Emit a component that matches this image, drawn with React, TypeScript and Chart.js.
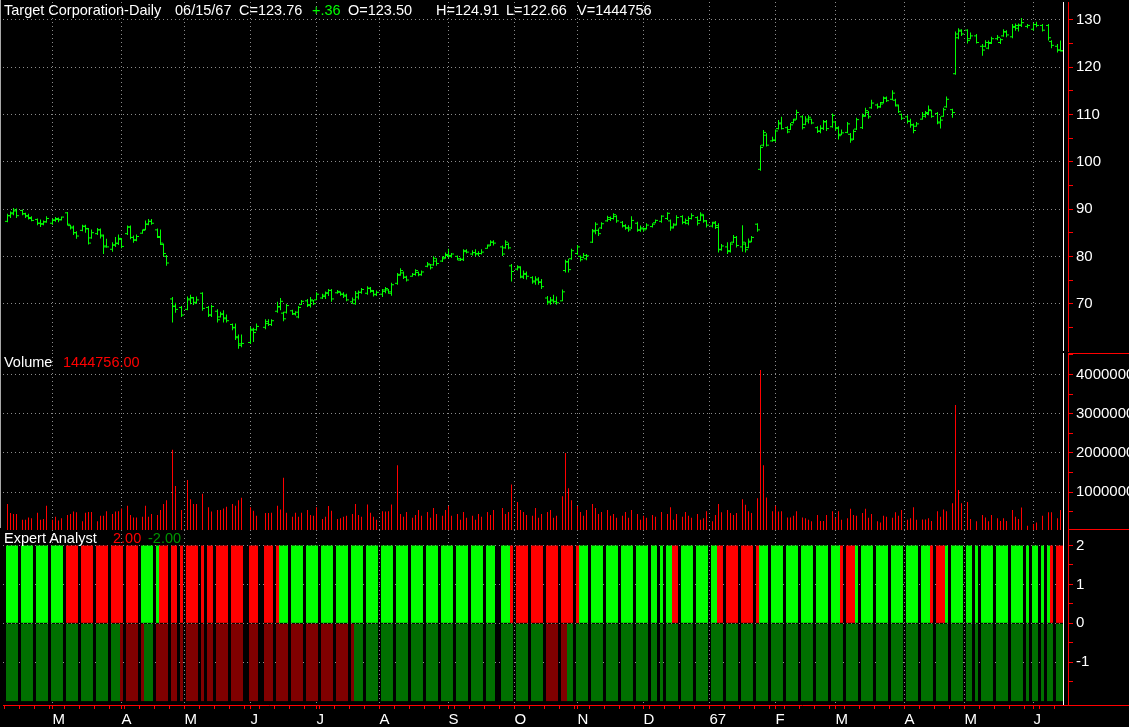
import React, { useEffect, useRef } from 'react';
import { Chart, registerables } from 'chart.js';

Chart.register(...registerables);

// ---------- DATA (one slot per weekday; null = no bar drawn) ----------
const monthTickSlots = [15, 38, 59, 81, 103, 124, 147, 169, 190, 212, 234, 256, 276, 299, 319, 342];
const monthTickLabels = ['M', 'A', 'M', 'J', 'J', 'A', 'S', 'O', 'N', 'D', '67', 'F', 'M', 'A', 'M', 'J'];

const priceTickValues = [65, 70, 75, 80, 85, 90, 95, 100, 105, 110, 115, 120, 125, 130];
const priceLabelValues = [70, 80, 90, 100, 110, 120, 130];
const volumeTickValues = [500000, 1000000, 1500000, 2000000, 2500000, 3000000, 3500000, 4000000, 4500000];
const volumeLabelValues = [1000000, 2000000, 3000000, 4000000];
const expertTickValues = [-1.5, -1, -0.5, 0, 0.5, 1, 1.5, 2];
const expertLabelValues = [-1, 0, 1, 2];
const expertHigh = 2;
const expertLow = -2;

const highs = [
  89.0, 89.5, 90.2, 90.1, null,
  89.9, 89.2, 89.0, 88.5, null,
  88.0, 87.8, 87.6, 88.5, null,
  88.0, 88.3, 88.2, 88.4, null,
  89.4, 86.7, 86.5, 85.3, null,
  86.7, 86.7, 86.0, 85.7, null,
  86.0, 85.9, 84.6, 83.7, null,
  83.0, 84.1, 84.6, 83.9, null,
  86.5, 86.5, 84.4, 84.6, null,
  85.7, 87.6, 87.9, 87.9, null,
  85.9, 85.7, 82.7, 80.3, null,
  71.4, 70.2, null, 69.5, null,
  71.5, 71.9, 71.4, 71.5, null,
  72.4, null, 69.5, 69.8, null,
  68.8, 68.3, 68.6, 67.7, null,
  65.8, 65.8, 63.5, 63.5, null,
  null, 65.1, 64.9, 65.8, null,
  null, 66.7, 66.7, 66.7, null,
  70.4, 71.2, 68.3, 70.0, null,
  68.7, 68.4, 69.5, 70.8, null,
  71.0, 71.4, 70.8, 72.4, null,
  72.1, 72.6, 73.1, 73.1, null,
  72.9, 72.6, 72.4, 72.1, null,
  71.3, 72.7, 72.8, 73.3, null,
  73.7, 73.5, 72.9, 72.8, null,
  73.1, 73.5, 73.1, 74.4, null,
  76.5, 77.5, 76.8, 75.9, null,
  76.5, 77.3, 76.8, 77.0, null,
  78.8, 78.4, 80.0, 79.6, null,
  80.0, 80.8, 81.6, 80.7, null,
  80.2, 79.7, 81.5, 81.5, null,
  81.3, 81.5, 81.1, 81.5, null,
  82.5, 83.4, 83.4, null, null,
  82.3, 83.4, 82.9, 78.4, null,
  78.1, 77.9, 77.0, 76.8, null,
  75.8, 75.8, 75.6, 75.2, null,
  71.6, 71.4, 71.9, 71.5, null,
  73.0, 79.3, 79.5, 81.6, null,
  82.4, 80.2, 80.7, 80.5, null,
  85.8, 87.2, 85.9, 87.2, null,
  88.6, 88.4, 89.1, 88.7, null,
  87.5, 86.8, 86.6, 88.5, null,
  87.3, 86.5, 86.1, 87.0, null,
  87.0, 87.8, null, 88.7, null,
  89.3, 87.8, 87.0, 88.7, null,
  88.7, 88.0, 88.5, 89.1, null,
  88.5, 89.3, 88.9, 87.7, null,
  87.3, 87.5, 87.0, 82.6, null,
  83.0, 83.0, 84.5, 84.3, null,
  86.6, 83.0, 83.8, 84.3, null,
  87.0, 103.5, 106.7, 106.0, null,
  105.3, 106.8, 108.8, 109.5, null,
  107.5, 108.2, 109.1, 111.0, null,
  109.8, 109.6, 109.8, 109.1, null,
  107.5, 107.7, 108.8, 108.8, null,
  110.2, 108.6, 107.5, 106.8, null,
  108.4, 106.1, 106.8, 109.3, null,
  110.2, 111.4, 110.7, 113.1, null,
  112.3, 112.6, 113.8, 113.8, null,
  115.1, 113.3, 112.1, 110.2, null,
  109.8, 109.1, 108.1, 108.4, null,
  110.5, 110.7, 111.9, 111.0, null,
  110.5, 109.5, 111.4, 113.8, null,
  111.2, 127.5, 128.2, 128.0, null,
  128.0, 127.3, null, 127.0, null,
  124.9, 125.7, 125.6, 126.4, null,
  126.8, 126.1, 128.0, 127.8, null,
  129.1, 129.2, 129.2, 130.4, null,
  129.1, null, 129.4, 129.6, null,
  129.1, null, 129.1, 125.7, null,
  124.9, 125.6, 124.91,
];

const lows = [
  87.2, 88.1, 88.7, 88.1, null,
  88.7, 88.1, 87.8, 87.4, null,
  86.6, 86.2, 86.6, 87.1, null,
  86.7, 87.3, 87.2, 87.6, null,
  86.5, 85.7, 84.5, 83.7, null,
  85.3, 85.0, 82.5, 83.7, null,
  84.5, 83.8, 80.5, 81.8, null,
  81.0, 82.0, 82.4, 81.7, null,
  84.5, 83.6, 82.9, 83.2, null,
  84.8, 85.5, 86.6, 86.7, null,
  83.9, 82.4, 80.1, 78.0, null,
  66.0, 68.1, null, 67.2, null,
  68.6, 69.9, 69.7, 70.0, null,
  68.5, null, 67.2, 67.2, null,
  66.0, 67.1, 66.0, 66.0, null,
  64.4, 62.3, 60.5, 60.8, null,
  null, 61.5, 61.9, 64.3, null,
  null, 64.6, 65.3, 65.3, null,
  68.1, 68.6, 66.3, 67.9, null,
  67.6, 67.5, 66.9, 69.7, null,
  69.3, 69.2, 69.7, 70.7, null,
  71.0, 71.0, 71.6, 70.4, null,
  72.1, 71.7, 71.2, 70.5, null,
  70.0, 69.8, 70.9, 72.1, null,
  71.9, 72.3, 71.5, 71.6, null,
  71.4, 72.2, 72.1, 71.7, null,
  74.0, 75.9, 75.2, 74.7, null,
  75.7, 75.9, 75.8, 75.9, null,
  77.7, 77.2, 78.0, 78.0, null,
  78.8, 79.5, 79.6, 79.7, null,
  79.2, 79.0, 79.0, 80.6, null,
  80.2, 80.0, 80.0, 80.4, null,
  81.6, 82.2, 82.3, null, null,
  80.1, 81.6, 81.5, 74.7, null,
  77.0, 75.4, 75.2, 75.1, null,
  74.2, 74.0, 74.0, 73.1, null,
  69.8, 69.8, 70.0, 69.8, null,
  70.5, 76.6, 76.6, 79.3, null,
  80.3, 78.9, 79.6, 79.2, null,
  82.8, 84.7, 84.3, 85.8, null,
  87.3, 87.5, 87.8, 87.1, null,
  86.1, 85.6, 85.2, 85.8, null,
  85.2, 85.2, 85.2, 85.7, null,
  86.1, 87.0, null, 87.1, null,
  87.7, 85.4, 85.9, 86.5, null,
  86.8, 86.8, 86.6, 87.8, null,
  86.5, 87.5, 87.1, 86.1, null,
  86.1, 85.8, 80.8, 81.2, null,
  80.5, 80.8, 82.8, 81.9, null,
  81.0, 80.8, 81.7, 83.0, null,
  85.2, 98.1, 103.2, 103.2, null,
  104.2, 104.2, 106.8, 106.8, null,
  106.0, 106.7, 108.1, 108.9, null,
  106.8, 107.7, 108.1, 107.9, null,
  106.1, 106.0, 106.7, 106.5, null,
  107.2, 106.5, 104.7, 105.6, null,
  106.0, 104.0, 104.6, 106.7, null,
  106.9, 109.5, 109.1, 111.2, null,
  111.2, 111.4, 112.3, 112.6, null,
  113.0, 111.7, 110.3, 108.8, null,
  108.1, 107.2, 106.0, 107.4, null,
  108.9, 109.3, 109.8, 109.3, null,
  107.9, 107.0, 109.5, 111.4, null,
  109.3, 118.4, 125.9, 126.6, null,
  125.0, 125.9, null, 125.0, null,
  122.4, 124.2, 123.8, 124.9, null,
  125.7, 124.9, 126.4, 126.3, null,
  126.1, 127.7, 127.5, 128.5, null,
  128.2, null, 127.7, 128.4, null,
  127.5, null, 125.6, 124.0, null,
  123.1, 123.3, 122.66,
];

const opens = [
  87.4, 88.6, 89.0, 89.8, null,
  89.7, 89.0, 88.6, 88.0, null,
  87.8, 87.0, 86.8, 87.3, null,
  87.0, 87.6, 87.8, 87.8, null,
  89.2, 86.5, 86.2, 85.0, null,
  85.5, 86.4, 85.8, 83.9, null,
  84.8, 85.6, 84.3, 82.2, null,
  81.5, 82.4, 82.8, 83.6, null,
  84.8, 86.2, 84.0, 83.5, null,
  84.9, 85.7, 86.8, 87.4, null,
  85.6, 84.0, 82.5, 80.0, null,
  71.0, 69.4, null, 69.2, null,
  68.8, 70.8, 71.2, 70.3, null,
  72.2, null, 69.2, 67.6, null,
  68.4, 67.2, 67.8, 67.0, null,
  65.6, 65.0, 63.0, 61.5, null,
  null, 61.8, 64.4, 64.5, null,
  null, 65.0, 65.8, 65.6, null,
  68.4, 69.4, 68.0, 68.2, null,
  68.5, 67.8, 67.2, 69.8, null,
  70.6, 69.6, 70.6, 70.8, null,
  71.2, 71.5, 72.2, 72.8, null,
  72.3, 72.4, 72.0, 71.8, null,
  70.4, 70.0, 71.4, 72.4, null,
  72.2, 73.2, 72.6, 72.0, null,
  72.0, 72.6, 72.9, 72.2, null,
  74.3, 76.2, 76.5, 75.6, null,
  75.8, 76.2, 76.6, 76.1, null,
  77.9, 78.2, 78.2, 79.0, null,
  79.0, 79.8, 80.2, 80.0, null,
  80.0, 79.2, 79.3, 81.0, null,
  80.5, 80.8, 80.5, 80.6, null,
  81.7, 82.4, 83.0, null, null,
  82.0, 81.8, 82.5, 78.0, null,
  77.3, 77.6, 75.6, 76.4, null,
  75.5, 74.6, 75.0, 74.6, null,
  71.2, 70.2, 70.6, 70.5, null,
  70.6, 77.0, 78.8, 79.5, null,
  80.6, 80.0, 79.8, 79.5, null,
  83.0, 85.2, 85.5, 86.0, null,
  87.5, 87.8, 88.0, 88.4, null,
  87.2, 86.4, 86.0, 86.0, null,
  87.0, 85.5, 85.8, 85.9, null,
  86.3, 87.1, null, 87.4, null,
  88.0, 87.5, 86.2, 86.8, null,
  88.4, 87.2, 87.0, 88.0, null,
  88.2, 87.6, 88.6, 87.5, null,
  86.4, 87.2, 86.5, 81.4, null,
  82.0, 81.2, 83.0, 84.0, null,
  82.0, 82.6, 81.9, 83.2, null,
  86.8, 98.4, 103.5, 105.6, null,
  104.4, 104.5, 107.0, 108.2, null,
  107.2, 106.8, 108.3, 109.0, null,
  109.5, 107.9, 108.6, 109.0, null,
  107.2, 106.4, 107.0, 108.5, null,
  107.4, 108.4, 107.2, 105.8, null,
  106.2, 105.8, 104.8, 106.9, null,
  107.2, 109.8, 110.4, 111.4, null,
  112.0, 111.6, 112.5, 113.5, null,
  113.2, 113.0, 111.8, 110.0, null,
  109.5, 108.6, 107.8, 107.5, null,
  109.0, 109.6, 110.2, 110.8, null,
  110.2, 108.2, 109.6, 111.6, null,
  111.0, 118.6, 126.2, 127.6, null,
  127.8, 126.0, null, 126.6, null,
  124.4, 124.4, 124.0, 125.2, null,
  126.0, 125.2, 126.6, 127.4, null,
  126.4, 128.4, 128.2, 128.8, null,
  128.6, null, 128.0, 129.0, null,
  128.8, null, 128.8, 125.4, null,
  124.4, 123.6, 123.50,
];

const closes = [
  88.6, 89.2, 89.6, 88.6, null,
  89.0, 88.5, 88.2, 87.6, null,
  87.0, 86.9, 87.3, 88.0, null,
  87.7, 88.0, 87.7, 88.3, null,
  86.8, 86.0, 85.0, 84.3, null,
  86.3, 85.9, 82.8, 85.0, null,
  85.6, 84.5, 82.0, 82.0, null,
  82.4, 82.7, 83.8, 82.1, null,
  86.2, 84.0, 83.4, 84.2, null,
  85.5, 86.8, 87.4, 87.0, null,
  84.2, 82.8, 80.6, 78.6, null,
  69.5, 68.8, null, 67.6, null,
  71.0, 71.3, 70.2, 70.8, null,
  69.0, null, 67.6, 69.4, null,
  66.6, 67.8, 66.8, 66.4, null,
  64.9, 62.8, 61.2, 61.6, null,
  null, 64.6, 63.9, 65.2, null,
  null, 66.2, 65.6, 66.4, null,
  69.3, 70.5, 66.8, 69.6, null,
  67.9, 68.2, 69.2, 70.5, null,
  69.8, 70.8, 70.0, 72.0, null,
  71.8, 72.3, 72.8, 71.0, null,
  72.6, 72.0, 71.6, 70.8, null,
  70.8, 72.2, 72.4, 73.0, null,
  73.3, 72.8, 71.9, 72.4, null,
  72.9, 73.2, 72.5, 74.0, null,
  76.0, 77.0, 75.6, 75.0, null,
  76.2, 77.0, 76.2, 76.7, null,
  78.4, 77.6, 79.6, 78.5, null,
  79.5, 80.4, 80.2, 80.5, null,
  79.5, 79.4, 81.2, 80.9, null,
  80.8, 80.6, 80.6, 80.9, null,
  82.2, 83.0, 82.8, null, null,
  80.5, 83.0, 81.8, 76.8, null,
  77.8, 75.8, 76.2, 75.8, null,
  74.8, 75.2, 74.5, 73.6, null,
  70.5, 70.8, 70.4, 70.2, null,
  72.5, 78.9, 77.2, 81.2, null,
  82.0, 79.3, 80.2, 80.1, null,
  85.5, 86.8, 84.8, 86.9, null,
  88.2, 88.0, 88.8, 87.5, null,
  86.5, 86.0, 85.6, 87.6, null,
  85.6, 86.0, 85.6, 86.6, null,
  86.8, 87.6, null, 88.5, null,
  89.1, 86.0, 86.6, 88.2, null,
  87.2, 87.6, 88.0, 88.6, null,
  87.0, 88.9, 87.5, 86.6, null,
  87.0, 86.1, 81.5, 82.2, null,
  81.0, 82.6, 84.0, 82.3, null,
  83.0, 81.4, 83.0, 84.0, null,
  85.6, 103.0, 106.2, 103.5, null,
  104.6, 106.5, 108.0, 107.0, null,
  106.3, 107.8, 108.8, 110.4, null,
  107.2, 109.0, 109.4, 108.2, null,
  106.5, 107.1, 108.4, 107.0, null,
  109.8, 107.0, 105.5, 106.1, null,
  108.0, 104.6, 106.4, 108.9, null,
  109.6, 110.8, 109.5, 112.4, null,
  111.6, 112.2, 113.4, 112.9, null,
  114.5, 112.0, 110.6, 109.2, null,
  108.5, 107.8, 106.6, 108.0, null,
  110.0, 110.4, 111.0, 109.6, null,
  108.4, 108.8, 111.0, 113.2, null,
  110.4, 127.0, 127.8, 127.0, null,
  125.6, 126.6, null, 125.2, null,
  123.6, 125.2, 125.0, 126.0, null,
  126.3, 125.8, 127.5, 126.8, null,
  128.6, 128.8, 128.9, 129.4, null,
  128.8, null, 129.0, 128.8, null,
  127.8, null, 126.2, 124.6, null,
  123.6, 123.4, 123.76,
];

// volume in millions of shares
const volumesM = [
  0.70, 0.47, 0.45, 0.45, null,
  0.30, 0.30, 0.36, 0.34, null,
  0.48, 0.30, 0.32, 0.66, null,
  0.30, 0.38, 0.28, 0.34, null,
  0.42, 0.45, 0.51, 0.49, null,
  0.26, 0.48, 0.50, 0.50, null,
  0.26, 0.40, 0.40, 0.52, null,
  0.45, 0.51, 0.52, 0.59, null,
  0.66, 0.42, 0.36, 0.36, null,
  0.38, 0.66, 0.38, 0.45, null,
  0.42, 0.55, 0.70, 0.80, null,
  2.08, 1.16, null, 0.55, null,
  1.31, 0.82, 0.70, 0.70, null,
  0.96, null, 0.62, 0.51, null,
  0.55, 0.55, 0.59, 0.63, null,
  0.70, 0.66, 0.80, 0.86, null,
  null, 0.62, 0.53, 0.40, null,
  null, 0.47, 0.47, 0.48, null,
  0.66, 0.56, 1.37, 0.48, null,
  0.38, 0.48, 0.38, 0.48, null,
  0.55, 0.42, 0.40, 0.62, null,
  0.32, 0.38, 0.65, 0.53, null,
  0.32, 0.34, 0.38, 0.40, null,
  0.45, 0.70, 0.42, 0.38, null,
  0.69, 0.48, 0.38, 0.30, null,
  0.52, 0.51, 0.52, 0.69, null,
  1.69, 0.45, 0.38, 0.50, null,
  0.35, 0.42, 0.55, 0.40, null,
  0.50, 0.35, 0.60, 0.45, null,
  0.40, 0.55, 0.65, 0.40, null,
  0.45, 0.30, 0.50, 0.35, null,
  0.40, 0.30, 0.45, 0.38, null,
  0.50, 0.42, 0.55, null, null,
  0.60, 0.45, 0.50, 1.20, null,
  0.75, 0.55, 0.50, 0.42, null,
  0.40, 0.60, 0.35, 0.45, null,
  0.50, 0.55, 0.35, 0.40, null,
  0.90, 2.00, 1.10, 0.80, null,
  0.65, 0.50, 0.40, 0.55, null,
  0.70, 0.60, 0.45, 0.50, null,
  0.55, 0.40, 0.45, 0.35, null,
  0.40, 0.50, 0.35, 0.55, null,
  0.45, 0.30, 0.40, 0.35, null,
  0.42, 0.38, null, 0.50, null,
  0.45, 0.62, 0.30, 0.45, null,
  0.38, 0.50, 0.40, 0.35, null,
  0.45, 0.30, 0.34, 0.52, null,
  0.26, 0.42, 0.70, 0.49, null,
  0.55, 0.47, 0.42, 0.47, null,
  0.82, 0.68, 0.52, 0.47, null,
  0.85, 4.11, 1.69, 0.87, null,
  0.52, 0.66, 0.51, 0.52, null,
  0.36, 0.36, 0.40, 0.52, null,
  0.36, 0.34, 0.30, 0.26, null,
  0.42, 0.27, 0.27, 0.42, null,
  0.52, 0.36, 0.52, 0.30, null,
  0.34, 0.58, 0.42, 0.40, null,
  0.47, 0.58, 0.35, 0.45, null,
  0.26, 0.23, 0.40, 0.38, null,
  0.35, 0.49, 0.40, 0.55, null,
  0.30, 0.34, 0.62, 0.30, null,
  0.31, 0.31, 0.34, 0.27, null,
  0.52, 0.38, 0.56, 0.52, null,
  0.72, 3.22, 1.06, 0.72, null,
  0.75, 0.32, null, 0.26, null,
  0.42, 0.36, 0.26, 0.42, null,
  0.34, 0.27, 0.34, 0.27, null,
  0.55, 0.38, 0.32, 0.61, null,
  0.15, null, 0.19, 0.23, null,
  0.40, null, 0.49, 0.49, null,
  0.34, 0.55, 1.444756,
];

// Expert Analyst signal per slot: G/R = upper half green/red, g/r = lower half dark green/dark red, '.' = none
const expertUpperWeeks = [
  'GGGG.', 'GGGG.', 'GGGG.', 'GGGG.',
  'RRRR.', 'RRRR.', 'RRRR.', 'RRRR.', 'RRRR.',
  'GGGG.', 'GRRR.', 'RR.R.', 'RRRR.', 'R.RR.', 'RRRR.', 'RRRR.', '.RRR.', '.RRR.',
  'RGGG.',
  'GGGG.', 'GGGG.', 'GGGG.', 'GGGG.', 'GGGG.', 'GGGG.', 'GGGG.', 'GGGG.', 'GGGG.', 'GGGG.', 'GGGG.', 'GGGG.', 'GGGG.',
  'GGG..', 'GGGR.',
  'RRRR.', 'RRRR.', 'RRRR.', 'RRRR.',
  'RGGG.',
  'GGGG.', 'GGGG.', 'GGGG.', 'GGGG.',
  'GG.G.', 'GGRR.', 'GGGG.', 'GGGG.', 'GGRR.',
  'RRRR.', 'RRRR.',
  'RGGG.',
  'GGGG.', 'GGGG.', 'GGGG.', 'GGGG.',
  'GGGR.', 'RRRG.',
  'GGGG.', 'GGGG.', 'GGGG.', 'GGGG.',
  'GGGR.', 'RRRG.',
  'GGGG.', 'GG.G.', 'GGGG.', 'GGGG.', 'GGGG.', 'G.GG.', 'G.GR.',
  'RRR',
];
const expertLowerWeeks = [
  'gggg.', 'gggg.', 'gggg.', 'gggg.', 'gggg.', 'gggg.', 'gggg.',
  'gggr.', 'rrrr.', 'rggg.', 'rrrr.', 'rr.r.', 'rrrr.', 'r.rr.', 'rrrr.', 'rrrr.', '.rrr.', '.rrr.',
  'rrrr.', 'rrrr.', 'rrrr.', 'rrrr.', 'rrrr.',
  'rggg.',
  'gggg.', 'gggg.', 'gggg.', 'gggg.', 'gggg.', 'gggg.', 'gggg.', 'gggg.',
  'ggg..',
  'gggg.', 'gggg.', 'gggg.',
  'rrrr.', 'rrgg.',
  'gggg.', 'gggg.', 'gggg.', 'gggg.', 'gggg.',
  'gg.g.',
  'gggg.', 'gggg.', 'gggg.', 'gggg.', 'gggg.', 'gggg.', 'gggg.', 'gggg.', 'gggg.', 'gggg.',
  'gggg.', 'gggg.', 'gggg.', 'gggg.', 'gggg.', 'gggg.', 'gggg.', 'gggg.', 'gggg.', 'gggg.',
  'gg.g.', 'gggg.', 'gggg.', 'gggg.', 'g.gg.', 'g.gg.',
  'ggg',
];

// ---------- STYLE ----------
const FONT_FAMILY = "'Liberation Sans', Arial, Helvetica, sans-serif";
const AXIS_FONT = { family: FONT_FAMILY, size: 15 };
const GRID_COLOR = '#8c8c8c';
const AXIS_RED = '#ff0000';
const PRICE_GREEN = '#00ff00';
const VOLUME_RED = '#ff0000';
const SIGNAL_COLORS: Record<string, string> = { G: '#00ff00', R: '#ff0000', g: '#007000', r: '#800000' };
const X_MIN = -1.5;
const X_MAX = 353.5;
const AXIS_WIDTH = 61;
const CLEAR = 'rgba(0,0,0,0)';

const weeklyTickSlots: number[] = [];
for (let k = -1; k <= 352; k += 5) weeklyTickSlots.push(k);
const bottomTickSlots = Array.from(new Set([...weeklyTickSlots, ...monthTickSlots])).sort((a, b) => a - b);

function zeroPadding(s: any) {
  s.paddingLeft = 0;
  s.paddingRight = 0;
  s.paddingTop = 0;
  s.paddingBottom = 0;
}

function xScale(withLabels: boolean): any {
  const slots = withLabels ? bottomTickSlots : monthTickSlots;
  return {
    type: 'linear',
    min: X_MIN,
    max: X_MAX,
    offset: false,
    afterBuildTicks: (s: any) => {
      s.ticks = slots.map((v) => ({ value: v }));
    },
    afterFit: (s: any) => {
      s.height = withLabels ? 22 : 0;
      zeroPadding(s);
    },
    grid: {
      display: true,
      offset: false,
      lineWidth: 1,
      color: (ctx: any) => (ctx.tick && monthTickSlots.includes(ctx.tick.value) ? GRID_COLOR : CLEAR),
      drawTicks: withLabels,
      tickLength: 4,
      tickColor: AXIS_RED,
      tickWidth: 1,
    },
    border: { display: withLabels, color: AXIS_RED, width: 1, dash: [1, 3] },
    ticks: {
      display: withLabels,
      autoSkip: false,
      maxRotation: 0,
      minRotation: 0,
      align: 'start',
      padding: 2,
      color: '#ffffff',
      font: AXIS_FONT,
      callback: (v: any) => {
        const i = monthTickSlots.indexOf(v);
        return i >= 0 ? monthTickLabels[i] : '';
      },
    },
  };
}

function yScale(min: number, max: number, tickValues: number[], labelValues: number[]): any {
  return {
    position: 'right',
    min,
    max,
    afterBuildTicks: (s: any) => {
      s.ticks = tickValues.map((v) => ({ value: v }));
    },
    afterFit: (s: any) => {
      s.width = AXIS_WIDTH;
      zeroPadding(s);
    },
    grid: {
      lineWidth: 1,
      color: (ctx: any) => (ctx.tick && labelValues.includes(ctx.tick.value) ? GRID_COLOR : CLEAR),
      drawTicks: true,
      tickLength: 5,
      tickColor: AXIS_RED,
      tickWidth: 1,
    },
    border: { display: true, color: AXIS_RED, width: 1, dash: [1, 3] },
    ticks: {
      color: '#ffffff',
      font: AXIS_FONT,
      padding: 3,
      autoSkip: false,
      callback: (v: any) => (labelValues.includes(v) ? String(v) : ''),
    },
  };
}

function framePlugin(topRule: boolean, bottomRule: boolean, axisRule: boolean): any {
  return {
    id: 'frame' + (topRule ? 't' : '') + (bottomRule ? 'b' : '') + (axisRule ? 'a' : ''),
    afterDatasetsDraw(chart: any) {
      const { ctx, chartArea: a, width } = chart;
      ctx.save();
      ctx.fillStyle = '#000000';
      ctx.fillRect(a.right - 4, a.top, 4, a.bottom - a.top);
      ctx.fillStyle = '#ffffff';
      ctx.fillRect(a.right - 5, a.top, 1, a.bottom - a.top);
      ctx.fillStyle = AXIS_RED;
      if (topRule) ctx.fillRect(a.right, a.top, width - a.right, 1);
      if (bottomRule) ctx.fillRect(a.right, a.bottom - 1, width - a.right, 1);
      if (axisRule) ctx.fillRect(a.right, a.bottom, width - a.right, 1);
      ctx.restore();
    },
  };
}

const commonOptions: any = {
  responsive: false,
  maintainAspectRatio: false,
  animation: false,
  devicePixelRatio: 1,
  events: [],
  layout: { padding: { left: 3, right: 0, top: 0, bottom: 0 } },
  plugins: { legend: { display: false }, tooltip: { enabled: false } },
};

function priceConfig(): any {
  const slots = highs.map((_, i) => i).filter((i) => highs[i] != null);
  const rangeData = slots.map((i) => ({ x: i, y: [lows[i], highs[i]] }));
  const openData = slots.map((i) => ({ x: i - 0.5, y: opens[i] }));
  const closeData = slots.map((i) => ({ x: i + 0.5, y: closes[i] }));
  const tickDataset = (data: any) => ({
    type: 'line',
    data,
    showLine: false,
    pointStyle: 'line',
    pointRadius: 1,
    pointHoverRadius: 1,
    pointBorderWidth: 1,
    pointBorderColor: PRICE_GREEN,
    pointBackgroundColor: PRICE_GREEN,
    borderColor: PRICE_GREEN,
  });
  return {
    type: 'bar',
    data: {
      datasets: [
        {
          type: 'bar',
          data: rangeData,
          backgroundColor: PRICE_GREEN,
          barThickness: 1,
          grouped: false,
          inflateAmount: 0,
          borderWidth: 0,
        },
        tickDataset(openData),
        tickDataset(closeData),
      ],
    },
    options: {
      ...commonOptions,
      scales: {
        x: xScale(false),
        y: yScale(60, 133.76, priceTickValues, priceLabelValues),
      },
    },
    plugins: [framePlugin(false, false, false)],
  };
}

function volumeConfig(): any {
  const data = volumesM
    .map((v, i) => (v == null ? null : { x: i, y: v * 1000000 }))
    .filter((d) => d != null);
  return {
    type: 'bar',
    data: {
      datasets: [
        {
          data,
          backgroundColor: VOLUME_RED,
          barThickness: 1,
          grouped: false,
          inflateAmount: 0,
          borderWidth: 0,
        },
      ],
    },
    options: {
      ...commonOptions,
      scales: {
        x: xScale(false),
        y: yScale(40000, 4545000, volumeTickValues, volumeLabelValues),
      },
    },
    plugins: [framePlugin(true, true, false)],
  };
}

function expertConfig(): any {
  const upper = expertUpperWeeks.join('').split('');
  const lower = expertLowerWeeks.join('').split('');
  const upperSlots = upper.map((c, i) => i).filter((i) => upper[i] !== '.');
  const lowerSlots = lower.map((c, i) => i).filter((i) => lower[i] !== '.');
  return {
    type: 'bar',
    data: {
      datasets: [
        {
          data: upperSlots.map((i) => ({ x: i, y: [0, expertHigh] })),
          backgroundColor: upperSlots.map((i) => SIGNAL_COLORS[upper[i]]),
          barThickness: 3,
          grouped: false,
          inflateAmount: 0,
          borderWidth: 0,
        },
        {
          data: lowerSlots.map((i) => ({ x: i, y: [expertLow, 0] })),
          backgroundColor: lowerSlots.map((i) => SIGNAL_COLORS[lower[i]]),
          barThickness: 3,
          grouped: false,
          inflateAmount: 0,
          borderWidth: 0,
        },
      ],
    },
    options: {
      ...commonOptions,
      scales: {
        x: xScale(true),
        y: yScale(-2.1, 2.4, expertTickValues, expertLabelValues),
      },
    },
    plugins: [framePlugin(false, false, true)],
  };
}

const textStyle = (left: number, top: number, color: string): React.CSSProperties => ({
  position: 'absolute',
  left,
  top,
  color,
  font: `14.5px ${FONT_FAMILY}`,
  lineHeight: '16px',
  whiteSpace: 'pre',
});

const headerItems = [
  { text: 'Target Corporation-Daily', x: 4, color: '#ffffff' },
  { text: '06/15/67', x: 175, color: '#ffffff' },
  { text: 'C=123.76', x: 239, color: '#ffffff' },
  { text: '+.36', x: 312, color: '#00ff00' },
  { text: 'O=123.50', x: 348, color: '#ffffff' },
  { text: 'H=124.91', x: 436, color: '#ffffff' },
  { text: 'L=122.66', x: 506, color: '#ffffff' },
  { text: 'V=1444756', x: 577, color: '#ffffff' },
];

export default function App() {
  const priceRef = useRef<HTMLCanvasElement>(null);
  const volumeRef = useRef<HTMLCanvasElement>(null);
  const expertRef = useRef<HTMLCanvasElement>(null);

  useEffect(() => {
    const charts: Chart[] = [];
    if (priceRef.current) charts.push(new Chart(priceRef.current, priceConfig()));
    if (volumeRef.current) charts.push(new Chart(volumeRef.current, volumeConfig()));
    if (expertRef.current) charts.push(new Chart(expertRef.current, expertConfig()));
    return () => charts.forEach((c) => c.destroy());
  }, []);

  const canvasStyle = (top: number, height: number): React.CSSProperties => ({
    position: 'absolute',
    left: 0,
    top,
    width: 1129,
    height,
    display: 'block',
  });

  return (
    <div
      style={{
        position: 'fixed',
        left: 0,
        top: 0,
        width: 1129,
        height: 727,
        background: '#000000',
        overflow: 'hidden',
      }}
    >
      <canvas ref={priceRef} width={1129} height={353} style={canvasStyle(0, 353)} />
      <canvas ref={volumeRef} width={1129} height={177} style={canvasStyle(353, 177)} />
      <canvas ref={expertRef} width={1129} height={197} style={canvasStyle(530, 197)} />
      <div style={{ position: 'absolute', left: 0, top: 0, width: 1, height: 528, background: '#a8a8a8' }} />
      {headerItems.map((h) => (
        <span key={h.text} style={textStyle(h.x, 2, h.color)}>
          {h.text}
        </span>
      ))}
      <span style={textStyle(4, 354, '#ffffff')}>Volume</span>
      <span style={textStyle(63, 354, '#ff0000')}>1444756.00</span>
      <span style={textStyle(4, 530, '#ffffff')}>Expert Analyst</span>
      <span style={textStyle(113, 530, '#ff0000')}>2.00</span>
      <span style={textStyle(148, 530, '#009600')}>-2.00</span>
    </div>
  );
}
